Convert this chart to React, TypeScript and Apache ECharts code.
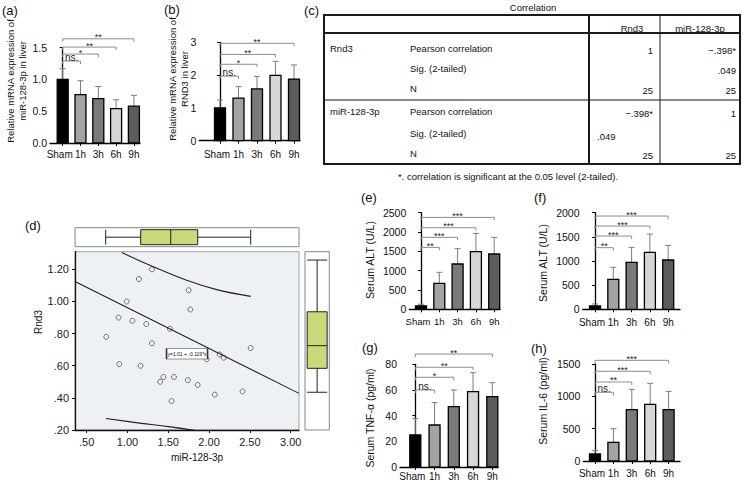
import React, { useEffect, useRef } from 'react';
import * as echarts from 'echarts';

const FONT = '"Liberation Sans", Arial, Helvetica, sans-serif';

// ---------- data ----------
const categories = ['Sham', '1h', '3h', '6h', '9h'];
const barColors = ['#000000', '#a3a3a3', '#7a7a7a', '#d6d6d6', '#5c5c5c'];

// (a) miR-128-3p in liver
const mirMean = [1.0, 0.76, 0.70, 0.54, 0.58];
const mirErr = [1.17, 0.98, 0.89, 0.68, 0.75];
const mirBrY = [1.29, 1.40, 1.51, 1.64];
const mirBrLab = ['ns.', '*', '**', '**'];

// (b) RND3 in liver
const rndMean = [1.0, 1.30, 1.58, 1.99, 1.88];
const rndErr = [1.24, 1.65, 1.96, 2.42, 2.31];
const rndBrY = [1.97, 2.33, 2.63, 2.97];
const rndBrLab = ['ns.', '*', '**', '**'];

// (e) Serum ALT
const altEMean = [90, 672, 1172, 1491, 1431];
const altEErr = [130, 957, 1569, 1965, 1862];
const altEBrY = [1603, 1862, 2112, 2379];
const altEBrLab = ['**', '***', '***', '***'];

// (f) Serum ALT
const altFMean = [69, 621, 972, 1179, 1021];
const altFErr = [110, 869, 1283, 1559, 1324];
const altFBrY = [1276, 1517, 1724, 1931];
const altFBrLab = ['**', '***', '***', '***'];

// (g) Serum TNF-α
const tnfMean = [25, 32.7, 47, 58.7, 54.8];
const tnfErr = [37.7, 50.1, 60, 73.5, 65.7];
const tnfBrY = [60, 69.9, 77.7, 88];
const tnfBrLab = ['ns.', '*', '**', '**'];

// (h) Serum IL-6
const il6Mean = [108, 289, 794, 876, 794];
const il6Err = [160, 500, 1108, 1201, 1077];
const il6BrY = [1062, 1222, 1387, 1557];
const il6BrLab = ['ns.', '**', '***', '***'];

// (d) scatter miR-128-3p vs Rnd3
const scMir = [1.30, 1.14, 0.99, 1.75, 1.77, 0.89, 1.06, 1.23, 1.52, 0.74, 1.30, 2.51, 2.13, 2.18, 1.97, 0.90, 1.16, 1.44, 1.40, 1.57, 1.74, 1.86, 2.07, 2.41, 1.54];
const scRnd = [1.20, 1.14, 1.00, 1.07, 0.95, 0.90, 0.88, 0.86, 0.83, 0.78, 0.74, 0.71, 0.67, 0.65, 0.64, 0.61, 0.60, 0.53, 0.50, 0.53, 0.51, 0.48, 0.42, 0.44, 0.38];
const fitX = [0.357, 3.102];
const fitY = [1.125, 0.428];
const upperX = [0.93, 1.276, 1.725, 2.093, 2.51];
const upperY = [1.305, 1.225, 1.132, 1.074, 1.032];
const lowerX = [0.737, 1.15, 1.5, 1.86];
const lowerY = [0.272, 0.243, 0.221, 0.195];
const mirBox = [0.733, 1.162, 1.53, 1.861, 2.51];
const rndBox = [0.435, 0.584, 0.725, 0.936, 1.258];
const scXTicks = [0.5, 1.0, 1.5, 2.0, 2.5, 3.0];
const scYTicks = [0.2, 0.4, 0.6, 0.8, 1.0, 1.2];
const fitLabel = 'y=1.01 + -0.119*x';

// (c) table
const tableTitle = 'Correlation';
const tableHeaders = ['Rnd3', 'miR-128-3p'];
const tableVars = ['Rnd3', 'miR-128-3p'];
const tableStats = ['Pearson correlation', 'Sig. (2-tailed)', 'N'];
const colRnd3 = ['1', '', '25', '\u2212.398*', '.049', '25'];
const colMir = ['\u2212.398*', '.049', '25', '1', '', '25'];
const tableNote = '*. correlation is significant at the 0.05 level (2-tailed).';

// ---------- layout ----------
type Lay = { axisX: number; endX: number; c0: number; step: number; y0: number; yTop: number; max: number; interval: number; dec: number; lm: number; lf: number };
const layA: Lay = { axisX: 50, endX: 140, c0: 62.7, step: 17.8, y0: 143, yTop: 47.7, max: 1.5, interval: 0.5, dec: 1, lm: 6.5, lf: 10 };
const layB: Lay = { axisX: 199.3, endX: 300, c0: 220, step: 18.5, y0: 140.7, yTop: 42.3, max: 3, interval: 1, dec: 0, lm: 9, lf: 10 };
const layE: Lay = { axisX: 409.3, endX: 500, c0: 421, step: 18.3, y0: 309.3, yTop: 212.7, max: 2500, interval: 500, dec: 0, lm: 7.5, lf: 9.5 };
const layF: Lay = { axisX: 582.5, endX: 680, c0: 595, step: 18.3, y0: 309.3, yTop: 212.7, max: 2000, interval: 500, dec: 0, lm: 8, lf: 10 };
const layG: Lay = { axisX: 400, endX: 498, c0: 415.3, step: 19.25, y0: 467, yTop: 364.3, max: 80, interval: 20, dec: 0, lm: 4.5, lf: 10 };
const layH: Lay = { axisX: 583.3, endX: 680, c0: 595, step: 18.4, y0: 461, yTop: 364, max: 1500, interval: 500, dec: 0, lm: 7, lf: 10 };

function barPanel(i: number, L: Lay, mean: number[], err: number[], brY: number[], brLab: string[]) {
  const grid = { left: L.axisX, top: L.yTop, width: L.endX - L.axisX, height: L.y0 - L.yTop };
  const idx = [0, 1, 2, 3, 4];
  const xAxis = {
    type: 'value', gridIndex: i,
    min: (L.axisX - L.c0) / L.step, max: (L.endX - L.c0) / L.step,
    axisLine: { show: true, lineStyle: { color: '#000', width: 1.3 } },
    axisTick: { show: true, customValues: idx, length: 3, lineStyle: { color: '#000' } },
    axisLabel: { show: false },
    splitLine: { show: false },
  };
  const yAxis = {
    type: 'value', gridIndex: i, min: 0, max: L.max, interval: L.interval,
    axisLine: { show: true, lineStyle: { color: '#000', width: 1.3 } },
    axisTick: { show: true, length: 3, lineStyle: { color: '#000' } },
    axisLabel: { fontSize: 10.5, fontFamily: FONT, color: '#111', margin: 3, showMinLabel: true, showMaxLabel: true, formatter: (v: number) => v.toFixed(L.dec) },
    splitLine: { show: false },
  };
  const bars = {
    type: 'custom', xAxisIndex: i, yAxisIndex: i, clip: false,
    data: mean.map((v, k) => [k, v, err[k]]),
    encode: { x: 0, y: 1 },
    renderItem: (params: any, api: any) => {
      const x = api.value(0), v = api.value(1), e = api.value(2);
      const p0 = api.coord([x, 0]);
      const p1 = api.coord([x, v]);
      const p2 = api.coord([x, e]);
      const w = 11;
      const k = params.dataIndex;
      return {
        type: 'group',
        children: [
          { type: 'line', shape: { x1: p1[0], y1: p1[1], x2: p2[0], y2: p2[1] }, style: { stroke: '#7d7d7d', lineWidth: 1 } },
          { type: 'line', shape: { x1: p2[0] - 3, y1: p2[1], x2: p2[0] + 3, y2: p2[1] }, style: { stroke: '#7d7d7d', lineWidth: 1 } },
          { type: 'rect', shape: { x: p1[0] - w / 2, y: p1[1], width: w, height: p0[1] - p1[1] }, style: { fill: barColors[k], stroke: '#000', lineWidth: 1.3 } },
          {
            type: 'text', x: p0[0] + (k === 0 ? -3 : 0), y: p0[1] + L.lm,
            style: { text: categories[k], fontSize: L.lf, fontFamily: FONT, fill: '#111', align: 'center', verticalAlign: 'top' },
          },
        ],
      };
    },
  };
  const brackets = {
    type: 'custom', xAxisIndex: i, yAxisIndex: i, clip: false,
    data: brY.map((y, k) => [0, k + 1, y]),
    encode: { x: 0, y: 2 },
    renderItem: (params: any, api: any) => {
      const a = api.coord([api.value(0), api.value(2)]);
      const b = api.coord([api.value(1), api.value(2)]);
      const lab = brLab[params.dataIndex];
      const isNs = lab === 'ns.';
      return {
        type: 'group',
        children: [
          { type: 'polyline', shape: { points: [[a[0], a[1] + 3], [a[0], a[1]], [b[0], b[1]], [b[0], b[1] + 3]] }, style: { stroke: '#8c8c8c', lineWidth: 1, fill: 'none' } },
          {
            type: 'text', x: (a[0] + b[0]) / 2, y: isNs ? a[1] + 1.5 : a[1] - 6,
            style: { text: lab, fontSize: isNs ? 10 : 9, fontFamily: FONT, fill: '#222', align: 'center', verticalAlign: isNs ? 'bottom' : 'top' },
          },
        ],
      };
    },
  };
  return { grid, xAxis, yAxis, series: [bars, brackets] };
}

function txt(text: string, x: number, y: number, size: number, extra: any = {}) {
  return {
    type: 'text', x, y,
    style: { text, fontSize: size, fontFamily: FONT, fill: '#111', align: 'left', verticalAlign: 'middle', ...extra },
  };
}
function vtxt(text: string, x: number, y: number, size: number) {
  return {
    type: 'text', x, y, rotation: Math.PI / 2,
    style: { text, fontSize: size, fontFamily: FONT, fill: '#111', align: 'center', verticalAlign: 'middle', lineHeight: 12 },
  };
}
function hline(x1: number, y1: number, x2: number, y2: number, w: number) {
  return { type: 'line', shape: { x1, y1, x2, y2 }, style: { stroke: '#1a1a1a', lineWidth: w } };
}

export default function App() {
  const ref = useRef<HTMLDivElement>(null);
  useEffect(() => {
    if (!ref.current) return;
    const chart = echarts.init(ref.current, undefined, { renderer: 'svg' });

    const panels = [
      barPanel(0, layA, mirMean, mirErr, mirBrY, mirBrLab),
      barPanel(1, layB, rndMean, rndErr, rndBrY, rndBrLab),
      barPanel(2, layE, altEMean, altEErr, altEBrY, altEBrLab),
      barPanel(3, layF, altFMean, altFErr, altFBrY, altFBrLab),
      barPanel(4, layG, tnfMean, tnfErr, tnfBrY, tnfBrLab),
      barPanel(5, layH, il6Mean, il6Err, il6BrY, il6BrLab),
    ];

    const scMin = 0.357, scMax = 3.102, syMin = 0.2, syMax = 1.31;
    const fmt2 = (v: number) => v.toFixed(2).replace(/^0/, '');

    const grids: any[] = panels.map((p) => p.grid);
    const xAxes: any[] = panels.map((p) => p.xAxis);
    const yAxes: any[] = panels.map((p) => p.yAxis);
    const series: any[] = [];
    panels.forEach((p) => series.push(...p.series));

    // grid 6: scatter
    grids.push({ left: 75, top: 251.7, width: 224, height: 178.3, show: true, backgroundColor: '#eef1f4', borderColor: '#9aa3ab', borderWidth: 1 });
    xAxes.push({
      type: 'value', gridIndex: 6, min: scMin, max: scMax,
      axisLine: { show: true, lineStyle: { color: '#111', width: 1.3 } },
      axisTick: { show: true, customValues: scXTicks, length: 3, lineStyle: { color: '#111' } },
      axisLabel: { customValues: scXTicks, showMinLabel: true, showMaxLabel: true, formatter: fmt2, fontSize: 11, fontFamily: FONT, color: '#222', margin: 6 },
      splitLine: { show: false },
    });
    yAxes.push({
      type: 'value', gridIndex: 6, min: syMin, max: syMax,
      axisLine: { show: true, lineStyle: { color: '#111', width: 1.3 } },
      axisTick: { show: true, customValues: scYTicks, length: 3, lineStyle: { color: '#111' } },
      axisLabel: { customValues: scYTicks, showMinLabel: true, showMaxLabel: true, formatter: fmt2, fontSize: 11, fontFamily: FONT, color: '#222', margin: 6 },
      splitLine: { show: false },
    });
    // grid 7: top boxplot
    grids.push({ left: 75, top: 227.7, width: 224, height: 19, show: true, backgroundColor: '#ffffff', borderColor: '#7e8890', borderWidth: 1 });
    xAxes.push({ type: 'value', gridIndex: 7, min: scMin, max: scMax, show: false });
    yAxes.push({ type: 'category', gridIndex: 7, data: ['miR-128-3p'], show: false });
    // grid 8: right boxplot
    grids.push({ left: 305, top: 251.7, width: 24.3, height: 178.3, show: true, backgroundColor: '#ffffff', borderColor: '#7e8890', borderWidth: 1 });
    xAxes.push({ type: 'category', gridIndex: 8, data: ['Rnd3'], show: false });
    yAxes.push({ type: 'value', gridIndex: 8, min: syMin, max: syMax, show: false });

    series.push(
      {
        type: 'line', xAxisIndex: 6, yAxisIndex: 6, showSymbol: false, smooth: false,
        data: fitX.map((x, k) => [x, fitY[k]]),
        lineStyle: { color: '#222', width: 1.1 },
        markPoint: {
          symbol: 'rect', symbolSize: [41, 10.5],
          itemStyle: { color: '#ffffff', borderColor: '#333', borderWidth: 0.8 },
          label: { show: true, position: 'inside', formatter: fitLabel, fontSize: 5, fontFamily: FONT, color: '#111' },
          data: [{ coord: [1.73, 0.675] }],
        },
      },
      {
        type: 'line', xAxisIndex: 6, yAxisIndex: 6, showSymbol: false, smooth: 0.4,
        data: upperX.map((x, k) => [x, upperY[k]]),
        lineStyle: { color: '#222', width: 1.1 },
      },
      {
        type: 'line', xAxisIndex: 6, yAxisIndex: 6, showSymbol: false, smooth: 0.4,
        data: lowerX.map((x, k) => [x, lowerY[k]]),
        lineStyle: { color: '#222', width: 1.1 },
      },
      {
        type: 'scatter', xAxisIndex: 6, yAxisIndex: 6, symbol: 'circle', symbolSize: 5,
        data: scMir.map((x, k) => [x, scRnd[k]]),
        itemStyle: { color: 'rgba(255,255,255,0)', borderColor: '#444', borderWidth: 0.9 },
      },
      {
        type: 'boxplot', xAxisIndex: 7, yAxisIndex: 7, boxWidth: [15, 15],
        data: [mirBox],
        itemStyle: { color: '#c7d978', borderColor: '#222', borderWidth: 1 },
      },
      {
        type: 'boxplot', xAxisIndex: 8, yAxisIndex: 8, boxWidth: [20, 20],
        data: [rndBox],
        itemStyle: { color: '#c7d978', borderColor: '#222', borderWidth: 1 },
      },
    );

    // graphics: labels, titles, table
    const g: any[] = [];
    g.push(txt('(a)', 2, 10, 13), txt('(b)', 164, 9, 13), txt('(c)', 304, 10, 13), txt('(d)', 25, 225, 13));
    g.push(txt('(e)', 361, 197, 13), txt('(f)', 534, 197, 13), txt('(g)', 362, 347, 13), txt('(h)', 531, 348, 13));
    g.push(vtxt('Relative mRNA expression of\nmiR-128-3p in liver', 16.5, 81, 9.5));
    g.push(vtxt('Relative mRNA expression of\nRND3 in liver', 178, 79, 9.5));
    g.push(vtxt('Serum ALT (U/L)', 370, 260, 10.5));
    g.push(vtxt('Serum ALT (U/L)', 543, 263, 10.5));
    g.push(vtxt('Serum TNF-\u03b1 (pg/ml)', 370, 418, 10.5));
    g.push(vtxt('Serum IL-6 (pg/ml)', 543, 401, 10.5));
    g.push(vtxt('Rnd3', 38, 322, 10));
    g.push(txt('miR-128-3p', 197, 457, 10, { align: 'center' }));

    // table
    const TL = 324, TR = 740, TT = 15, TB = 164, HB = 33, MID = 100, V1 = 589, V2 = 660;
    g.push({ type: 'rect', shape: { x: TL, y: TT, width: TR - TL, height: TB - TT }, style: { fill: 'none', stroke: '#1a1a1a', lineWidth: 2 } });
    g.push(hline(TL, HB, TR, HB, 2), hline(TL, MID, TR, MID, 1), hline(V1, TT, V1, TB, 2), hline(V2, TT, V2, TB, 1));
    g.push(txt(tableTitle, 533, 7, 9.5, { align: 'center' }));
    g.push(txt(tableHeaders[0], 632, 28, 9.5, { align: 'center' }));
    g.push(txt(tableHeaders[1], 700, 28, 9.5, { align: 'center' }));
    const rowYs = [48, 68, 88, 111, 133, 153];
    g.push(txt(tableVars[0], 330, rowYs[0], 9.5), txt(tableVars[1], 330, rowYs[3], 9.5));
    rowYs.forEach((y, k) => {
      g.push(txt(tableStats[k % 3], 410, y, 9.5));
      if (colRnd3[k]) {
        if (k === 4) g.push(txt(colRnd3[k], 597, y + 3, 9.5));
        else g.push(txt(colRnd3[k], 653, y + 2, 9.5, { align: 'right' }));
      }
      if (colMir[k]) g.push(txt(colMir[k], 736, y + 2, 9.5, { align: 'right' }));
    });
    g.push(txt(tableNote, 508, 176, 9.5, { align: 'center' }));

    chart.setOption({
      animation: false,
      backgroundColor: '#ffffff',
      grid: grids,
      xAxis: xAxes,
      yAxis: yAxes,
      series,
      graphic: g,
    });
    return () => chart.dispose();
  }, []);
  return <div ref={ref} style={{ position: 'absolute', left: 0, top: 0, width: 746, height: 484 }} />;
}
